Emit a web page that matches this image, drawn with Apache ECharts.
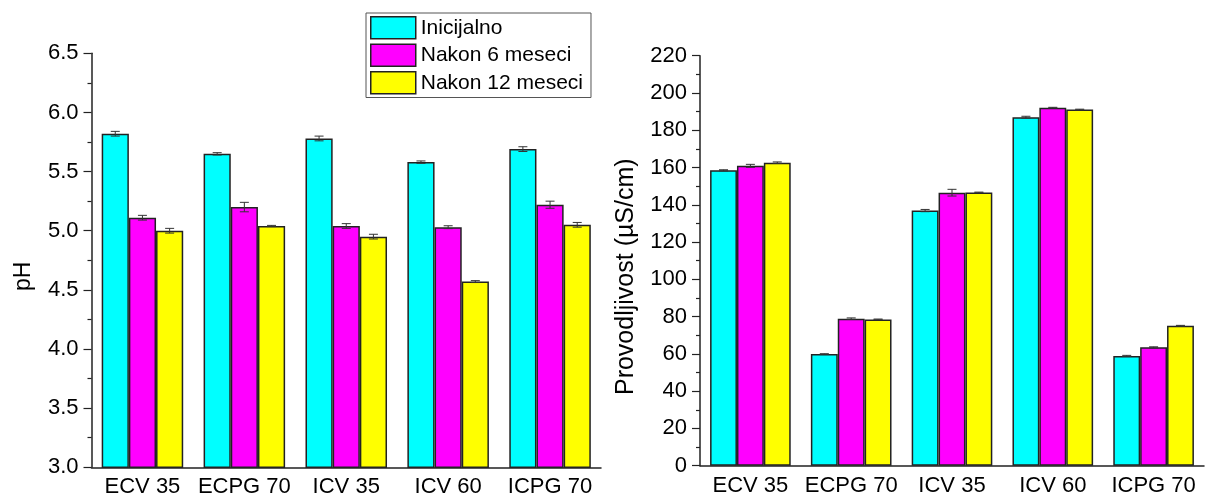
<!DOCTYPE html>
<html>
<head>
<meta charset="utf-8">
<script src="https://cdn.jsdelivr.net/npm/echarts@6/dist/echarts.min.js"></script>
<style>
html,body{margin:0;padding:0;background:#fff;}
#chart{width:1205px;height:500px;}
</style>
</head>
<body>
<div id="chart"></div>
<script>
const categories = ['ECV 35', 'ECPG 70', 'ICV 35', 'ICV 60', 'ICPG 70'];
const seriesNames = ['Inicijalno', 'Nakon 6 meseci', 'Nakon 12 meseci'];
const seriesColors = ['#00FFFF', '#FF00FF', '#FFFF00'];

const phInit = [5.82, 5.65, 5.78, 5.58, 5.69];
const ph6 = [5.11, 5.20, 5.04, 5.03, 5.22];
const ph12 = [5.00, 5.04, 4.95, 4.57, 5.05];
const phInitErr = [0.02, 0.01, 0.02, 0.01, 0.02];
const ph6Err = [0.02, 0.04, 0.02, 0.012, 0.03];
const ph12Err = [0.02, 0.005, 0.02, 0.008, 0.02];

const condInit = [158.5, 59.9, 136.9, 187.0, 58.9];
const cond6 = [160.9, 78.9, 146.5, 192.1, 63.5];
const cond12 = [162.6, 78.5, 146.6, 191.1, 75.1];
const condInitErr = [0.3, 0.2, 0.6, 0.5, 0.3];
const cond6Err = [0.8, 0.4, 1.8, 0.2, 0.3];
const cond12Err = [0.4, 0.2, 0.2, 0.2, 0.2];

const phTicks = { min: 3.0, max: 6.5, interval: 0.5 };
const condTicks = { min: 0, max: 220, interval: 20 };

const FONT = '"Liberation Sans", Arial, sans-serif';
const AX = '#222';
const TXT = '#000';

function errRender(idx) {
  return function (params, api) {
    const x = api.value(0), y = api.value(1), e = api.value(2);
    const bw = api.size([1, 0])[0];
    const barW = bw * 0.8 / 3;
    const cx = api.coord([x, y])[0] + (idx - 1) * barW;
    const top = api.coord([x, y + e])[1];
    const bot = api.coord([x, y - e])[1];
    const cap = 4.5;
    const st = { stroke: '#333', lineWidth: 1 };
    return {
      type: 'group',
      children: [
        { type: 'line', shape: { x1: cx, y1: top, x2: cx, y2: bot }, style: st },
        { type: 'line', shape: { x1: cx - cap, y1: top, x2: cx + cap, y2: top }, style: st },
        { type: 'line', shape: { x1: cx - cap, y1: bot, x2: cx + cap, y2: bot }, style: st }
      ]
    };
  };
}

function xAxes(gridIndex) {
  return [
    {
      type: 'category', gridIndex: gridIndex, position: 'bottom', data: categories,
      axisLine: { lineStyle: { color: AX, width: 1.5 } },
      axisTick: { alignWithLabel: true, length: 6, lineStyle: { color: AX, width: 1.2 } },
      axisLabel: { color: TXT, fontSize: 22, fontFamily: FONT, margin: 9, interval: 0, hideOverlap: false }
    },
    {
      type: 'category', gridIndex: gridIndex, position: 'bottom', data: categories,
      axisLine: { show: false },
      axisTick: { length: 4, interval: 0, lineStyle: { color: AX, width: 1.2 } },
      axisLabel: { show: false }
    }
  ];
}

function yAxis(gridIndex, ticks, name, fmt, nameGap, fontSize) {
  return {
    type: 'value', gridIndex: gridIndex, min: ticks.min, max: ticks.max, interval: ticks.interval,
    name: name, nameLocation: 'middle', nameGap: nameGap,
    nameTextStyle: { color: TXT, fontSize: fontSize, fontFamily: FONT, padding: [0, 32, 0, 0] },
    axisLine: { show: true, lineStyle: { color: AX, width: 1.5 } },
    axisTick: { show: true, length: 8, lineStyle: { color: AX, width: 1.2 } },
    minorTick: { show: true, splitNumber: 2, length: 4, lineStyle: { color: AX, width: 1.2 } },
    splitLine: { show: false },
    axisLabel: { color: TXT, fontSize: 22, fontFamily: FONT, margin: 13, formatter: fmt }
  };
}

const phData = [phInit, ph6, ph12];
const phErr = [phInitErr, ph6Err, ph12Err];
const condData = [condInit, cond6, cond12];
const condErr = [condInitErr, cond6Err, cond12Err];

const series = [];
[[phData, phErr, 0, 0], [condData, condErr, 1, 2]].forEach(function (p) {
  const data = p[0], err = p[1], yIdx = p[2], xIdx = p[3];
  data.forEach(function (vals, i) {
    series.push({
      type: 'bar', name: seriesNames[i], xAxisIndex: xIdx, yAxisIndex: yIdx,
      data: vals, barGap: '0%', barCategoryGap: '20%',
      itemStyle: { color: seriesColors[i], borderColor: '#222', borderWidth: 1.5 },
      emphasis: { disabled: true }
    });
  });
  data.forEach(function (vals, i) {
    series.push({
      type: 'custom', name: 'err' + yIdx + '_' + i, xAxisIndex: xIdx, yAxisIndex: yIdx, z: 5,
      renderItem: errRender(i),
      data: vals.map(function (v, k) { return [k, v, err[i][k]]; })
    });
  });
});

const chart = echarts.init(document.getElementById('chart'), null, { renderer: 'canvas' });
chart.setOption({
  backgroundColor: '#fff',
  animation: false,
  grid: [
    { left: 91.5, top: 53.3, width: 509.5, height: 414 },
    { left: 700, top: 55.7, width: 504, height: 410 }
  ],
  legend: {
    data: seriesNames,
    orient: 'vertical', left: 366, top: 13,
    itemWidth: 45, itemHeight: 22, itemGap: 4,
    padding: [3, 8, 3, 4],
    borderColor: '#555', borderWidth: 1,
    icon: 'rect',
    itemStyle: { borderColor: '#222', borderWidth: 1.5 },
    textStyle: { color: TXT, fontSize: 21, fontFamily: FONT }
  },
  xAxis: xAxes(0).concat(xAxes(1)),
  yAxis: [
    yAxis(0, phTicks, 'pH', function (v) { return v.toFixed(1); }, 56, 23),
    yAxis(1, condTicks, 'Provodljivost (µS/cm)', function (v) { return String(v); }, 61, 25)
  ],
  series: series
});
</script>
</body>
</html>
